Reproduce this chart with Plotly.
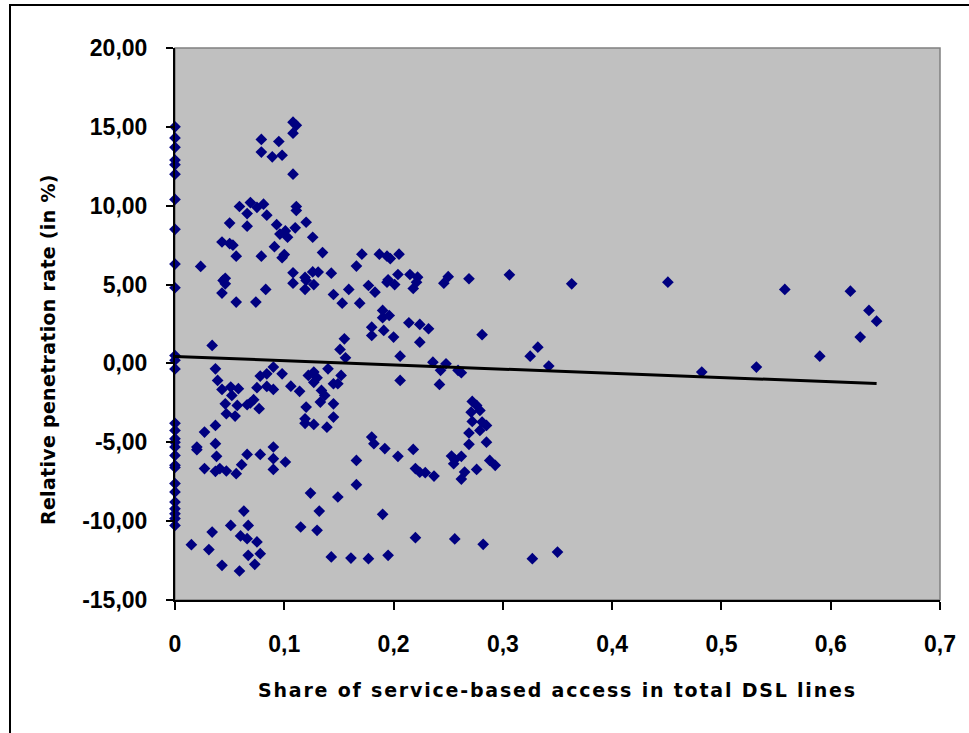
import numpy as np
import plotly.graph_objects as go

# Share of service-based access (x) vs. relative penetration rate in % (y)
share = [
    # share = 0
    0, 0, 0, 0, 0, 0, 0, 0, 0, 0, 0, 0, 0, 0,
    0, 0, 0, 0, 0, 0, 0, 0, 0, 0, 0, 0, 0, 0,
    # upper-left group
    0.0235, 0.043, 0.050, 0.053, 0.050, 0.046, 0.044, 0.046, 0.043, 0.056,
    0.056, 0.059, 0.069, 0.066, 0.075, 0.081, 0.084, 0.066, 0.074, 0.083,
    0.079, 0.079, 0.079, 0.089, 0.095, 0.098, 0.108, 0.111, 0.108, 0.108,
    0.111, 0.111, 0.091, 0.093, 0.096, 0.101, 0.103, 0.110, 0.098, 0.100,
    0.120, 0.126, 0.135, 0.108, 0.108, 0.119, 0.126, 0.131, 0.143, 0.119,
    0.127, 0.120, 0.145, 0.153, 0.159, 0.166, 0.169, 0.171, 0.177, 0.183,
    0.187, 0.194, 0.197, 0.195, 0.194, 0.201, 0.204, 0.205, 0.215, 0.222,
    0.218, 0.221, 0.246, 0.250, 0.269, 0.306, 0.363, 0.451, 0.558, 0.618,
    0.635, 0.642, 0.627, 0.590, 0.532, 0.482,
    # middle band
    0.190, 0.196, 0.190, 0.180, 0.180, 0.191, 0.200, 0.214, 0.224, 0.232,
    0.224, 0.155, 0.151, 0.156, 0.206, 0.236, 0.248, 0.243, 0.259, 0.262,
    0.281, 0.332, 0.325, 0.342, 0.140, 0.206, 0.242, 0.034,
    # lower-left group
    0.037, 0.090, 0.039, 0.078, 0.084, 0.098, 0.043, 0.051, 0.058, 0.052,
    0.075, 0.084, 0.090, 0.106, 0.114, 0.122, 0.127, 0.127, 0.046, 0.057,
    0.047, 0.055, 0.069, 0.072, 0.066, 0.077, 0.120, 0.119, 0.119, 0.127,
    0.037, 0.027, 0.037, 0.020, 0.090, 0.130, 0.152, 0.145, 0.149, 0.134,
    0.137, 0.133, 0.145, 0.145, 0.139,
    # lower-middle group
    0.180, 0.182, 0.192, 0.218, 0.204, 0.220, 0.224, 0.229, 0.237, 0.253,
    0.256, 0.262, 0.166, 0.166, 0.124, 0.149, 0.132, 0.190, 0.115, 0.130,
    0.220, 0.256, 0.143, 0.161, 0.177, 0.195,
    0.272, 0.276, 0.279, 0.271, 0.281, 0.285, 0.279, 0.272, 0.269, 0.269,
    0.285, 0.262, 0.255, 0.288, 0.293, 0.276, 0.265, 0.282, 0.327, 0.350,
    # bottom-left group
    0.020, 0.038, 0.027, 0.037, 0.041, 0.047, 0.056, 0.061, 0.066, 0.078,
    0.090, 0.101, 0.090, 0.015, 0.034, 0.031, 0.051, 0.063, 0.067, 0.060,
    0.066, 0.075, 0.078, 0.067, 0.073, 0.043, 0.059,
]

penetration = [
    15.0, 14.3, 13.7, 12.9, 12.6, 12.0, 10.4, 8.5, 6.3, 4.8, 0.5, 0.2, -0.35, -3.8,
    -4.25, -4.77, -5.0, -5.3, -5.83, -6.46, -6.6, -7.62, -8.15, -8.79, -9.21, -9.53, -9.84, -10.27,
    6.15, 7.7, 7.6, 7.5, 8.9, 5.4, 5.26, 5.05, 4.46, 6.8,
    3.89, 9.95, 10.2, 9.5, 9.9, 10.1, 9.4, 8.7, 3.89, 4.69,
    6.8, 14.2, 13.4, 13.1, 14.07, 13.2, 15.3, 15.1, 14.6, 12.0,
    9.95, 9.7, 7.4, 8.8, 8.2, 8.4, 8.0, 8.6, 6.7, 6.9,
    8.95, 8.0, 7.03, 5.75, 5.09, 5.45, 5.8, 5.79, 5.72, 4.7,
    5.0, 5.26, 4.37, 3.82, 4.69, 6.17, 3.82, 6.93, 4.94, 4.52,
    6.93, 6.8, 6.65, 5.3, 5.15, 5.0, 5.64, 6.93, 5.64, 5.47,
    4.75, 5.15, 5.09, 5.5, 5.37, 5.62, 5.05, 5.15, 4.69, 4.58,
    3.36, 2.68, 1.67, 0.46, -0.23, -0.55,
    3.36, 3.04, 2.9, 2.3, 1.77, 2.09, 1.67, 2.58, 2.47, 2.2,
    1.35, 1.56, 0.89, 0.36, 0.46, 0.08, -0.02, -0.44, -0.44, -0.59,
    1.82, 1.03, 0.46, -0.17, -0.34, -1.08, -1.33, 1.14,
    -0.34, -0.23, -1.08, -0.8, -0.66, -0.66, -1.65, -1.5, -1.6, -2.03,
    -1.54, -1.46, -1.65, -1.44, -1.77, -0.76, -0.55, -1.2, -2.56, -2.66,
    -3.19, -3.34, -2.5, -2.3, -2.62, -2.87, -2.77, -3.51, -3.8, -3.87,
    -3.93, -4.35, -5.09, -5.3, -5.3, -0.91, -0.76, -1.29, -1.29, -1.71,
    -2.03, -2.45, -2.56, -3.4, -4.04,
    -4.67, -5.09, -5.4, -5.45, -5.89, -6.67, -6.9, -6.93, -7.14, -5.87,
    -6.1, -7.33, -6.15, -7.69, -8.22, -8.47, -9.36, -9.57, -10.37, -10.58,
    -11.05, -11.13, -12.27, -12.34, -12.38, -12.17,
    -2.41, -2.66, -2.98, -3.09, -3.72, -3.93, -4.25, -3.68, -4.41, -5.13,
    -4.99, -5.89, -6.36, -6.15, -6.46, -6.72, -6.89, -11.47, -12.38, -11.96,
    -5.47, -5.89, -6.67, -6.84, -6.67, -6.82, -6.99, -6.42, -5.77, -5.77,
    -6.04, -6.25, -6.72, -11.49, -10.69, -11.8, -10.27, -9.36, -10.27, -10.94,
    -11.11, -11.32, -12.06, -12.17, -12.74, -12.8, -13.16,
]

# Linear trend: intercept and slope
trend_intercept = 0.44
trend_slope = -2.67

x_ticks = [0, 0.1, 0.2, 0.3, 0.4, 0.5, 0.6, 0.7]
x_tick_text = ["0", "0,1", "0,2", "0,3", "0,4", "0,5", "0,6", "0,7"]
y_ticks = [20, 15, 10, 5, 0, -5, -10, -15]
y_tick_text = ["20,00", "15,00", "10,00", "5,00", "0,00", "-5,00", "-10,00", "-15,00"]

W, H = 969, 733
L, R, T, B = 175, 29, 48, 133
plot_w = W - L - R
plot_h = H - T - B


def px_to_paper_x(px):
    return (px - L) / plot_w


def px_to_paper_y(py):
    return (H - B - py) / plot_h


tick_font = dict(family="Liberation Sans, Arial, sans-serif", size=23,
                 color="black", weight="bold")
x_title_font = dict(family="DejaVu Sans, Verdana, sans-serif", size=19,
                    color="black", weight="bold")
y_title_font = dict(family="DejaVu Sans, Verdana, sans-serif", size=19,
                    color="black", weight="bold")

fig = go.Figure()

fig.add_trace(go.Scatter(
    x=share, y=penetration, mode="markers",
    marker=dict(symbol="diamond", size=9, color="#000080", line=dict(width=0)),
    cliponaxis=False, showlegend=False, hoverinfo="x+y",
))

trend_x = np.array([0.0, max(share)])
trend_y = trend_intercept + trend_slope * trend_x
fig.add_trace(go.Scatter(
    x=trend_x, y=trend_y, mode="lines",
    line=dict(color="black", width=3), showlegend=False, hoverinfo="skip",
))

fig.update_layout(
    width=W, height=H,
    margin=dict(l=L, r=R, t=T, b=B, pad=0),
    paper_bgcolor="white", plot_bgcolor="#C0C0C0",
    xaxis=dict(
        range=[0, 0.7], tickvals=x_ticks, ticktext=x_tick_text,
        showgrid=False, zeroline=False, showline=True, linecolor="black",
        linewidth=2, ticks="outside", ticklen=8, tickwidth=1.5,
        tickcolor="black", tickfont=tick_font, ticklabelstandoff=14,
    ),
    yaxis=dict(
        range=[-15, 20], tickvals=y_ticks, ticktext=y_tick_text,
        showgrid=False, zeroline=False, showline=True, linecolor="black",
        linewidth=2, ticks="outside", ticklen=7, tickwidth=1.5,
        tickcolor="black", tickfont=tick_font, ticklabelstandoff=14,
    ),
    shapes=[
        # grey frame of the plot area (top and right edges show)
        dict(type="rect", xref="paper", yref="paper", x0=0, x1=1, y0=0, y1=1,
             line=dict(color="#808080", width=1.5), layer="below"),
        # outer chart border
        dict(type="rect", xref="paper", yref="paper",
             x0=px_to_paper_x(10), x1=px_to_paper_x(W + 20),
             y0=px_to_paper_y(H + 20), y1=px_to_paper_y(5),
             line=dict(color="black", width=2)),
    ],
    annotations=[
        dict(text='<span style="letter-spacing:1.8px">'
                  'Share of service-based access in total DSL lines</span>',
             xref="paper", yref="paper", x=0.5, y=px_to_paper_y(690),
             xanchor="center", yanchor="middle", showarrow=False,
             font=x_title_font),
        dict(text='<span style="letter-spacing:0.3px">'
                  'Relative penetration rate (in %)</span>',
             xref="paper", yref="paper", x=px_to_paper_x(48),
             y=px_to_paper_y(350), textangle=-90,
             xanchor="center", yanchor="middle", showarrow=False,
             font=y_title_font),
    ],
)

fig.write_html("out.html")
